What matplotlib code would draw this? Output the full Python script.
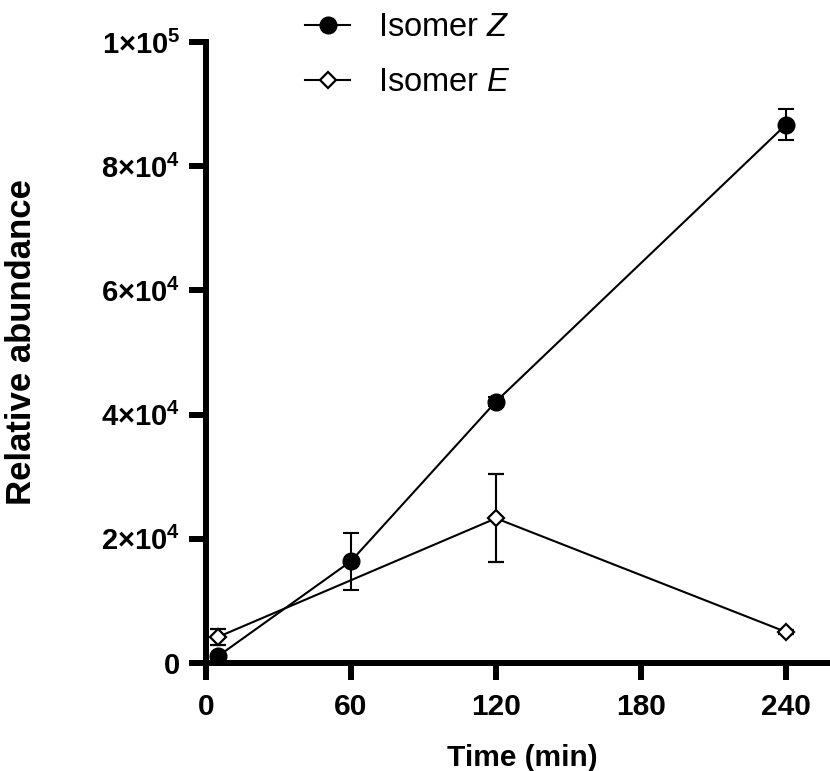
import matplotlib
matplotlib.use("Agg")
import matplotlib.pyplot as plt
from matplotlib.lines import Line2D

# data
time_z = [5, 60, 120, 240]
isomer_z = [1100, 16400, 42100, 86700]
isomer_z_err = [400, 4600, 700, 2500]

time_e = [5, 120, 240]
isomer_e = [4200, 23300, 5000]
isomer_e_err = [1300, 7100, 300]

x_ticks = [0, 60, 120, 180, 240]
y_ticks = [0, 20000, 40000, 60000, 80000, 100000]
y_tick_labels = ['0', r'$\mathbf{2×10^{4}}$', r'$\mathbf{4×10^{4}}$',
                 r'$\mathbf{6×10^{4}}$', r'$\mathbf{8×10^{4}}$', r'$\mathbf{1×10^{5}}$']

plt.rcParams['font.family'] = ['Liberation Sans', 'DejaVu Sans']
plt.rcParams['mathtext.fontset'] = 'custom'
plt.rcParams['mathtext.rm'] = 'Liberation Sans'
plt.rcParams['mathtext.bf'] = 'Liberation Sans:bold'
plt.rcParams['mathtext.it'] = 'Liberation Sans:italic'

W, H = 830, 771
fig = plt.figure(figsize=(W / 100, H / 100), dpi=100)
left, right, bottom, top = 206, 829, 663, 42
ax = fig.add_axes([left / W, 1 - bottom / H, (right - left) / W, (bottom - top) / H])

e_style = dict(color='black', marker='D', mfc='white', mec='black', ms=8.6, mew=1.6, lw=1.5)
z_style = dict(color='black', marker='o', ms=12, lw=1.5)

ax.errorbar(time_e, isomer_e, yerr=isomer_e_err, elinewidth=1.5, capsize=6,
            capthick=1.5, clip_on=False, zorder=3, **e_style)
ax.errorbar(time_z, isomer_z, yerr=isomer_z_err, elinewidth=1.5, capsize=6,
            capthick=1.5, clip_on=False, zorder=4, **z_style)

ax.set_xlim(0, (right - left) / 145 * 60)
ax.set_ylim(0, 100000)
ax.set_xticks(x_ticks)
ax.set_xticklabels([str(t) for t in x_ticks], fontsize=21.5, fontweight='bold')
ax.set_yticks(y_ticks)
ax.set_yticklabels(y_tick_labels, fontsize=21, fontweight='bold')

for s in ['top', 'right']:
    ax.spines[s].set_visible(False)
for s in ['left', 'bottom']:
    ax.spines[s].set_linewidth(4.3)
ax.tick_params(axis='both', length=12.5, width=4.3, color='black')
ax.tick_params(axis='x', pad=9)
ax.tick_params(axis='y', pad=6)

fig.text(22 / W, 1 - 342 / H, 'Relative abundance', rotation=90,
         ha='center', va='center', fontsize=25, fontweight='bold')
fig.text(522 / W, 1 - 758 / H, 'Time (min)', ha='center', va='center',
         fontsize=21.5, fontweight='bold')

handles = [Line2D([], [], **z_style), Line2D([], [], **e_style)]
labels = [r'Isomer $\mathit{Z}$', r'Isomer $\mathit{E}$']
fig.legend(handles, labels, loc='upper left',
           bbox_to_anchor=(305 / W, 1 - 12 / H), frameon=False, fontsize=23.5,
           borderpad=0, borderaxespad=0, numpoints=1, handlelength=1.38,
           handletextpad=0.86, labelspacing=0.75)

fig.savefig('out.png', dpi=100)
